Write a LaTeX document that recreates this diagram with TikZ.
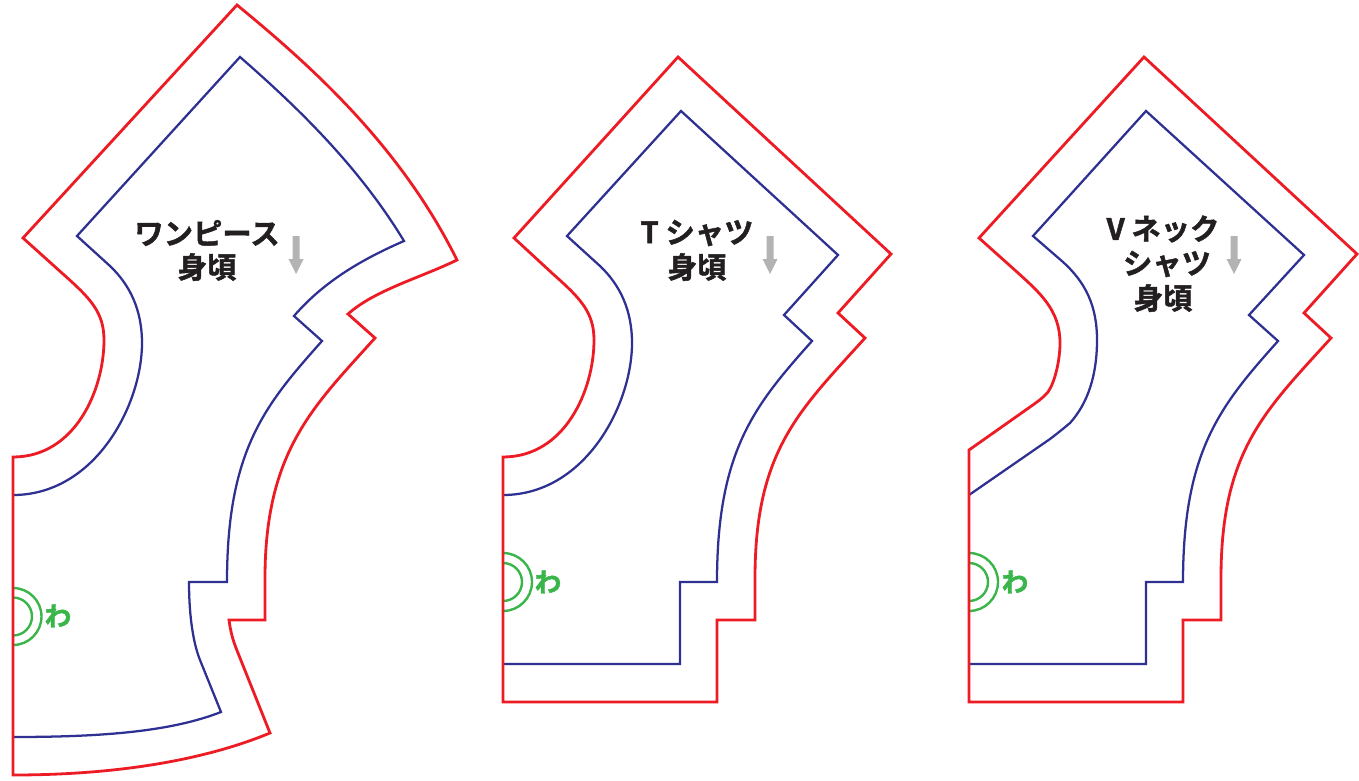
\documentclass[tikz,border=0pt]{standalone}
\usepackage{fontspec}
\newfontfamily\jpfont{Noto Sans CJK JP}[BoldFont={Noto Sans CJK JP Bold},BoldFeatures={FakeBold=1.6}]
\definecolor{cutred}{HTML}{ED1C24}
\definecolor{seamblue}{HTML}{2E3192}
\definecolor{foldgreen}{HTML}{39B54A}
\definecolor{grainGray}{HTML}{B3B3B3}
\definecolor{labelInk}{HTML}{231F20}
\tikzset{
  cutline/.style={draw=cutred,line width=2.1pt,line join=miter},
  seamline/.style={draw=seamblue,line width=1.7pt,line join=miter},
  foldarc/.style={draw=foldgreen,line width=1.8pt},
  graintip/.style={fill=grainGray,draw=none},
  pieceLabel/.style={font=\jpfont\bfseries\fontsize{22}{22}\selectfont,text=labelInk,inner sep=0pt,anchor=center},
  foldLabel/.style={font=\jpfont\bfseries\fontsize{20}{20}\selectfont,text=foldgreen,inner sep=0pt,anchor=center}
}
\newcommand{\grainmark}[2]{\fill[graintip] (#1-3.5,#2) -- (#1+3.5,#2) -- (#1+3.5,#2+23) -- (#1+7.5,#2+23) -- (#1,#2+38) -- (#1-7.5,#2+23) -- (#1-3.5,#2+23) -- cycle;}
\begin{document}
\begin{tikzpicture}[x=0.75pt,y=-0.75pt]
\useasboundingbox (0,0) rectangle (1359,781);
% one-piece
\draw[foldarc] (13,588) arc[start angle=-90,end angle=90,radius=28.5];
\draw[foldarc] (13,597.5) arc[start angle=-90,end angle=90,radius=19];
\draw[seamline] (13,737) .. controls (100,737) and (170,732) .. (221,712) -- (200,660) .. controls (192,640) and (189,610) .. (189,582) -- (227,582) .. controls (227,450) and (265,405) .. (322,341) -- (294,316) .. controls (325,280) and (365,258) .. (404,241) .. controls (358,165) and (295,105) .. (240,57) -- (77,236) -- (110,266) .. controls (130,285) and (142,310) .. (142,343) .. controls (142,405) and (95,495) .. (13,495);
\draw[cutline] (13,775) .. controls (110,775) and (200,762) .. (270,733) -- (238,653) .. controls (234,643) and (231,635) .. (229,620) -- (265,620) -- (265,578) .. controls (265,450) and (315,405) .. (375,338) -- (348,314) .. controls (375,290) and (420,278) .. (457,260) .. controls (400,145) and (310,65) .. (237,5) -- (23,238) -- (63,274) .. controls (90,298) and (104,312) .. (104,340) .. controls (104,390) and (75,457) .. (13,457) -- cycle;
\node[foldLabel] (waA) at (58,616) {わ};
\node[pieceLabel] (titleA) at (207,233) {ワンピース};
\node[pieceLabel] (bodyA) at (207,267) {身頃};
\grainmark{296}{236}
% T-shirt
\draw[foldarc] (503,553) arc[start angle=-90,end angle=90,radius=29];
\draw[foldarc] (503,563) arc[start angle=-90,end angle=90,radius=19];
\draw[seamline] (503,664) -- (680,664) -- (680,582) -- (717,582) .. controls (717,450) and (755,405) .. (812,341) -- (784,315) -- (838,255) -- (681,111) -- (567,236) -- (600,266) .. controls (620,285) and (632,310) .. (632,343) .. controls (632,405) and (585,495) .. (503,495);
\draw[cutline] (678,57) -- (891,254) -- (838,313) -- (865,338) .. controls (800,410) and (755,450) .. (755,578) -- (755,620) -- (717,620) -- (717,702) -- (503,702) -- (503,457) .. controls (565,457) and (594,390) .. (594,340) .. controls (594,312) and (580,298) .. (553,274) -- (514,238) -- cycle;
\node[foldLabel] (waB) at (548,582) {わ};
\node[pieceLabel] (titleB) at (697,233) {T シャツ};
\node[pieceLabel] (bodyB) at (697,267) {身頃};
\grainmark{770}{236}
% V-neck
\draw[foldarc] (969,553) arc[start angle=-90,end angle=90,radius=29];
\draw[foldarc] (969,563) arc[start angle=-90,end angle=90,radius=19];
\draw[seamline] (969,664) -- (1146,664) -- (1146,582) -- (1183,582) .. controls (1183,450) and (1221,405) .. (1278,341) -- (1249,315) -- (1304,255) -- (1146,111) -- (1033,236) -- (1063,262) .. controls (1085,282) and (1097,305) .. (1097,340) .. controls (1097,375) and (1088,403) .. (1070,423) .. controls (1064,428) and (1058,433) .. (1050,439) -- (969,495);
\draw[cutline] (1144,57) -- (1357,254) -- (1304,313) -- (1331,338) .. controls (1266,410) and (1221,450) .. (1221,578) -- (1221,620) -- (1183,620) -- (1183,702) -- (969,702) -- (969,450) -- (1030,407) .. controls (1037,402) and (1043,398) .. (1048,392) .. controls (1055,382) and (1060,360) .. (1060,343) .. controls (1060,310) and (1040,293) .. (1017,272) -- (979,238) -- cycle;
\node[foldLabel] (waC) at (1015,582) {わ};
\node[pieceLabel] (titleC) at (1163,229) {V ネック};
\node[pieceLabel] (shirtC) at (1167,264) {シャツ};
\node[pieceLabel] (bodyC) at (1163,298) {身頃};
\grainmark{1234}{236}
\end{tikzpicture}
\end{document}
